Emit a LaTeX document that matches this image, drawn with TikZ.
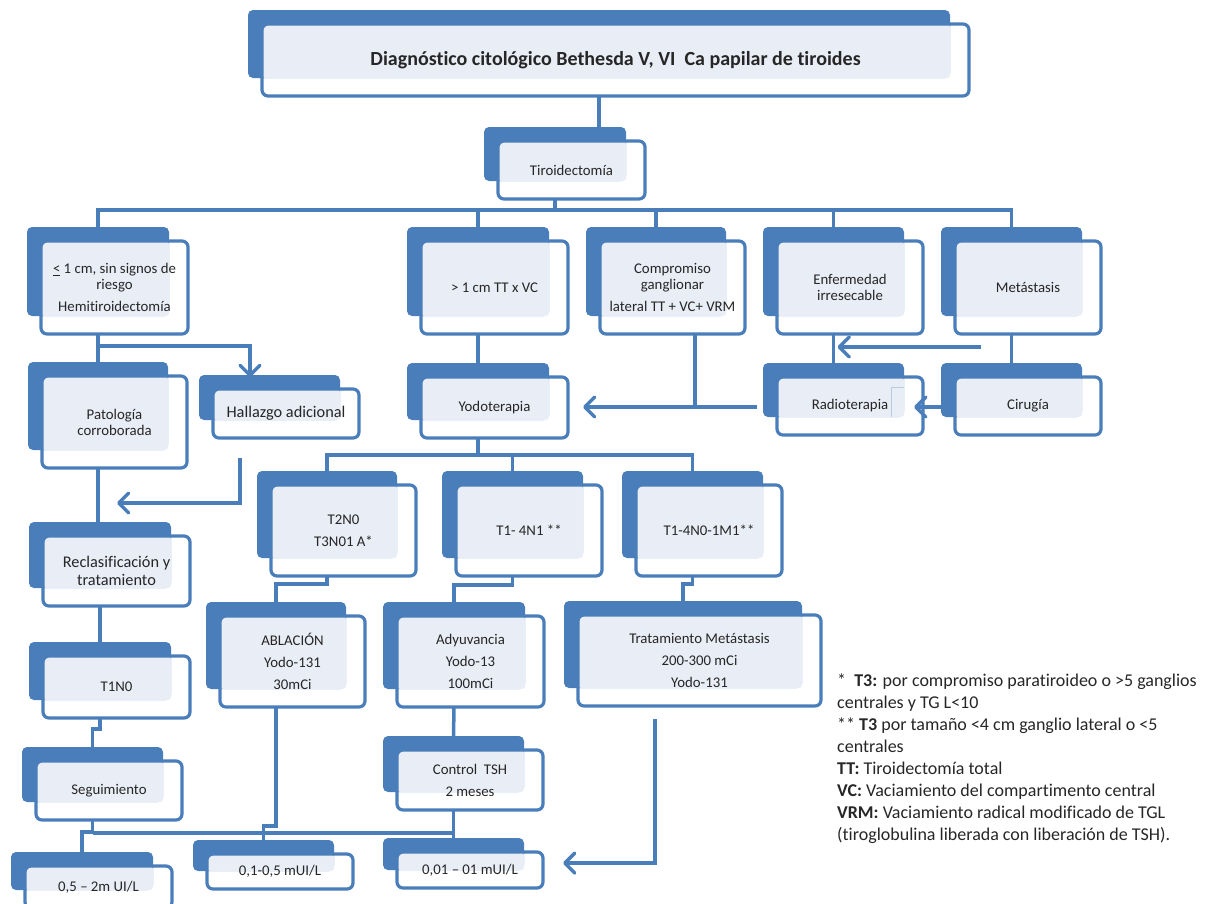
\documentclass[tikz,border=0pt]{standalone}
\usepackage{fontspec}
\setmainfont{Carlito}[Ligatures=NoCommon]
\usetikzlibrary{arrows.meta}

\definecolor{azul}{RGB}{74,126,187}
\definecolor{claro}{RGB}{233,237,246}
\definecolor{texto}{RGB}{38,38,38}

% caja: fondo azul + recuadro delantero con texto
\newcommand{\caja}[7][]{%
  \node[fondo, minimum width={#5-#3}, minimum height={#6-#4}] (#2-b) at ({(#3+#5)/2},{(#4+#6)/2}) {};
  \fill[claro, rounded corners=3] ({#3+14},{#4+14}) rectangle (#5,#6);
  \node[frente, minimum width={#5-#3+5}, minimum height={#6-#4+4}, #1] (#2) at ({(#3+#5)/2+16.5},{(#4+#6)/2+16}) {#7};%
}

\begin{document}
\begin{tikzpicture}[x=1pt, y=-1pt,
  fondo/.style={fill=azul, rounded corners=5, inner sep=0, outer sep=0},
  frente/.style={draw=azul, line width=3.2, rounded corners=6, inner sep=0, outer sep=0,
    align=center, text=texto, font=\fontsize{14.8}{16}\selectfont},
  grande/.style={font=\fontsize{16.3}{17.5}\selectfont},
  titular/.style={font=\fontsize{20}{22}\selectfont\bfseries},
  linea/.style={draw=azul, line width=3.5},
  flecha/.style={linea, -{Straight Barb[length=10pt,width=20pt,round]}},
  notas/.style={align=left, inner sep=0, text=texto, font=\fontsize{18}{22}\selectfont}]

\useasboundingbox (0,0) rectangle (1206,903);
\clip (0,0) rectangle (1206,903);

% Diagnostico y cirugia
\caja[titular]{titulo}{248}{10}{950}{78}{Diagnóstico citológico Bethesda V, VI~ Ca papilar de tiroides}
\caja{tiro}{484}{127}{626}{181}{Tiroidectomía}

% Primera fila
\caja{menor}{27}{227}{169}{316}{\underline{<} 1 cm, sin signos de\\riesgo\\[6pt]Hemitiroidectomía}
\caja{mayor}{407}{227}{549}{316}{> 1 cm TT x VC}
\caja{comp}{586}{227}{726}{316}{Compromiso\\ganglionar\\[6pt]lateral TT + VC+ VRM}
\caja{enf}{763}{227}{904}{316}{Enfermedad\\irresecable}
\caja{meta}{941}{227}{1082}{316}{Metástasis}

% Segunda fila
\caja{pato}{28}{362}{168}{450}{Patología\\corroborada}
\caja[grande]{halla}{199}{375}{340}{420}{Hallazgo adicional}
\caja{yodo}{407}{363}{549}{420}{Yodoterapia}
\caja{radio}{763}{363}{904}{417}{Radioterapia}
\caja{ciru}{941}{363}{1082}{417}{Cirugía}
\draw[azul!40, line width=0.8] (891,417) |- (904,387);

% Estadios
\caja[grande]{reclas}{29}{522}{171}{588}{Reclasificación y\\tratamiento}
\caja{tdos}{257}{471}{397}{558}{T2N0\\[6pt]T3N01 A*}
\caja{tuno}{442}{471}{583}{558}{T1- 4N1 **}
\caja{tmeta}{622}{471}{763}{558}{T1-4N0-1M1**}

% Tratamientos
\caja{tino}{29}{642}{171}{700}{T1N0}
\caja{abla}{206}{602}{346}{689}{ABLACIÓN\\[6pt]Yodo-131\\[6pt]30mCi}
\caja{adyu}{383}{602}{525}{689}{Adyuvancia\\[6pt]Yodo-13\\[6pt]100mCi}
\caja{trat}{564}{601}{802}{688}{Tratamiento Metástasis\\[6pt]200-300 mCi\\[6pt]Yodo-131}

% Seguimiento y TSH
\caja{segui}{22}{747}{163}{802}{Seguimiento}
\caja{control}{383}{736}{524}{792}{Control~ TSH\\[6pt]2 meses}
\caja{ceroa}{11}{852}{153}{890}{0,5 – 2m UI/L}
\caja{cerocero}{193}{840}{334}{871}{0,1-0,5 mUI/L}
\caja{cerouno}{383}{838}{524}{870}{0,01 – 01 mUI/L}

% Conectores superiores
\coordinate (bus1) at (0,210);
\draw[linea] (titulo-b.center |- titulo.south) -- (titulo-b.center |- tiro-b.north);
\draw[linea] (tiro-b |- tiro.south) -- (tiro-b |- bus1);
\draw[linea] (menor-b.north) -- (menor-b |- bus1) -- (meta-b |- bus1) -- (meta-b.north);
\foreach \n in {mayor,comp,enf}
  \draw[linea] (\n-b |- bus1) -- (\n-b.north);

% Conectores segunda fila
\coordinate (h1) at (250,346);
\coordinate (c1) at (695,407);
\coordinate (m1) at (981,347);
\draw[linea] (menor-b |- menor.south) -- (pato-b.north);
\draw[flecha] (menor-b |- h1) -- (h1) -- ([yshift=-2]halla-b.north -| h1);
\draw[linea] (mayor-b |- mayor.south) -- (yodo-b.north);
\draw[linea] (comp.south -| c1) -- (c1);
\draw[flecha] ([xshift=-6]radio-b.west |- c1) -- ([xshift=15]yodo.east |- c1);
\draw[linea] (enf-b |- enf.south) -- (radio-b.north);
\draw[linea] (meta-b |- meta.south) -- (ciru-b.north);
\draw[flecha] (m1) -- ([xshift=4]enf-b.center |- m1);
\draw[flecha] ([xshift=3]ciru-b.west |- c1) -- ([xshift=-9]radio.east |- c1);

% Conectores estadios
\coordinate (h2) at (240,458);
\coordinate (h3) at (240,503);
\coordinate (bus2) at (0,455);
\draw[linea] (pato-b |- pato.south) -- (pato-b |- reclas-b.north);
\draw[flecha] (h2) -- (h3) -- ([xshift=17]reclas-b.center |- h3);
\draw[linea] (yodo-b |- yodo.south) -- (yodo-b |- bus2);
\draw[linea] (tdos-b.north) -- (tdos-b |- bus2) -- (tmeta-b |- bus2) -- (tmeta-b.north);
\draw[linea] (tuno-b |- bus2) -- (tuno-b.north);

% Conectores tratamientos
\draw[linea] (reclas-b |- reclas.south) -- (tino-b.north);
\draw[linea] (tino-b |- tino.south) -- ++(0,11) -| (segui-b.north);
\draw[linea] (tdos-b |- tdos.south) -- ++(0,8) -| (abla-b.north);
\draw[linea] (tuno-b |- tuno.south) -- ++(0,9) -| (adyu-b.north);
\draw[linea] (tmeta-b |- tmeta.south) -- ++(0,8) -| (trat-b.north);
\draw[linea] (adyu-b |- adyu.south) -- (control-b.north);

% Conectores inferiores
\coordinate (bus3) at (0,833);
\coordinate (t1) at (655,719);
\coordinate (t2) at (655,863);
\draw[linea] (segui-b |- segui.south) -- ++(0,12) -| (ceroa-b.north);
\draw[linea] (segui-b |- bus3) -- (control-b |- bus3);
\draw[linea] (abla-b |- abla.south) -- ++(0,119) -| (cerocero-b.north);
\draw[linea] (control-b |- control.south) -- (cerouno-b.north);
\draw[flecha] (t1) -- (t2) -- ([xshift=20]cerouno.east |- t2);

% Notas
\node[notas, anchor=north west] (notas) at (837,674) {%
*~ \textbf{T3:} por compromiso paratiroideo o >5 ganglios\\
centrales y TG L<10\\
** \textbf{T3} por tamaño <4 cm ganglio lateral o <5\\
centrales\\
\textbf{TT:} Tiroidectomía total\\
\textbf{VC:} Vaciamiento del compartimento central\\
\textbf{VRM:} Vaciamiento radical modificado de TGL\\
(tiroglobulina liberada con liberación de TSH).};

\end{tikzpicture}
\end{document}
